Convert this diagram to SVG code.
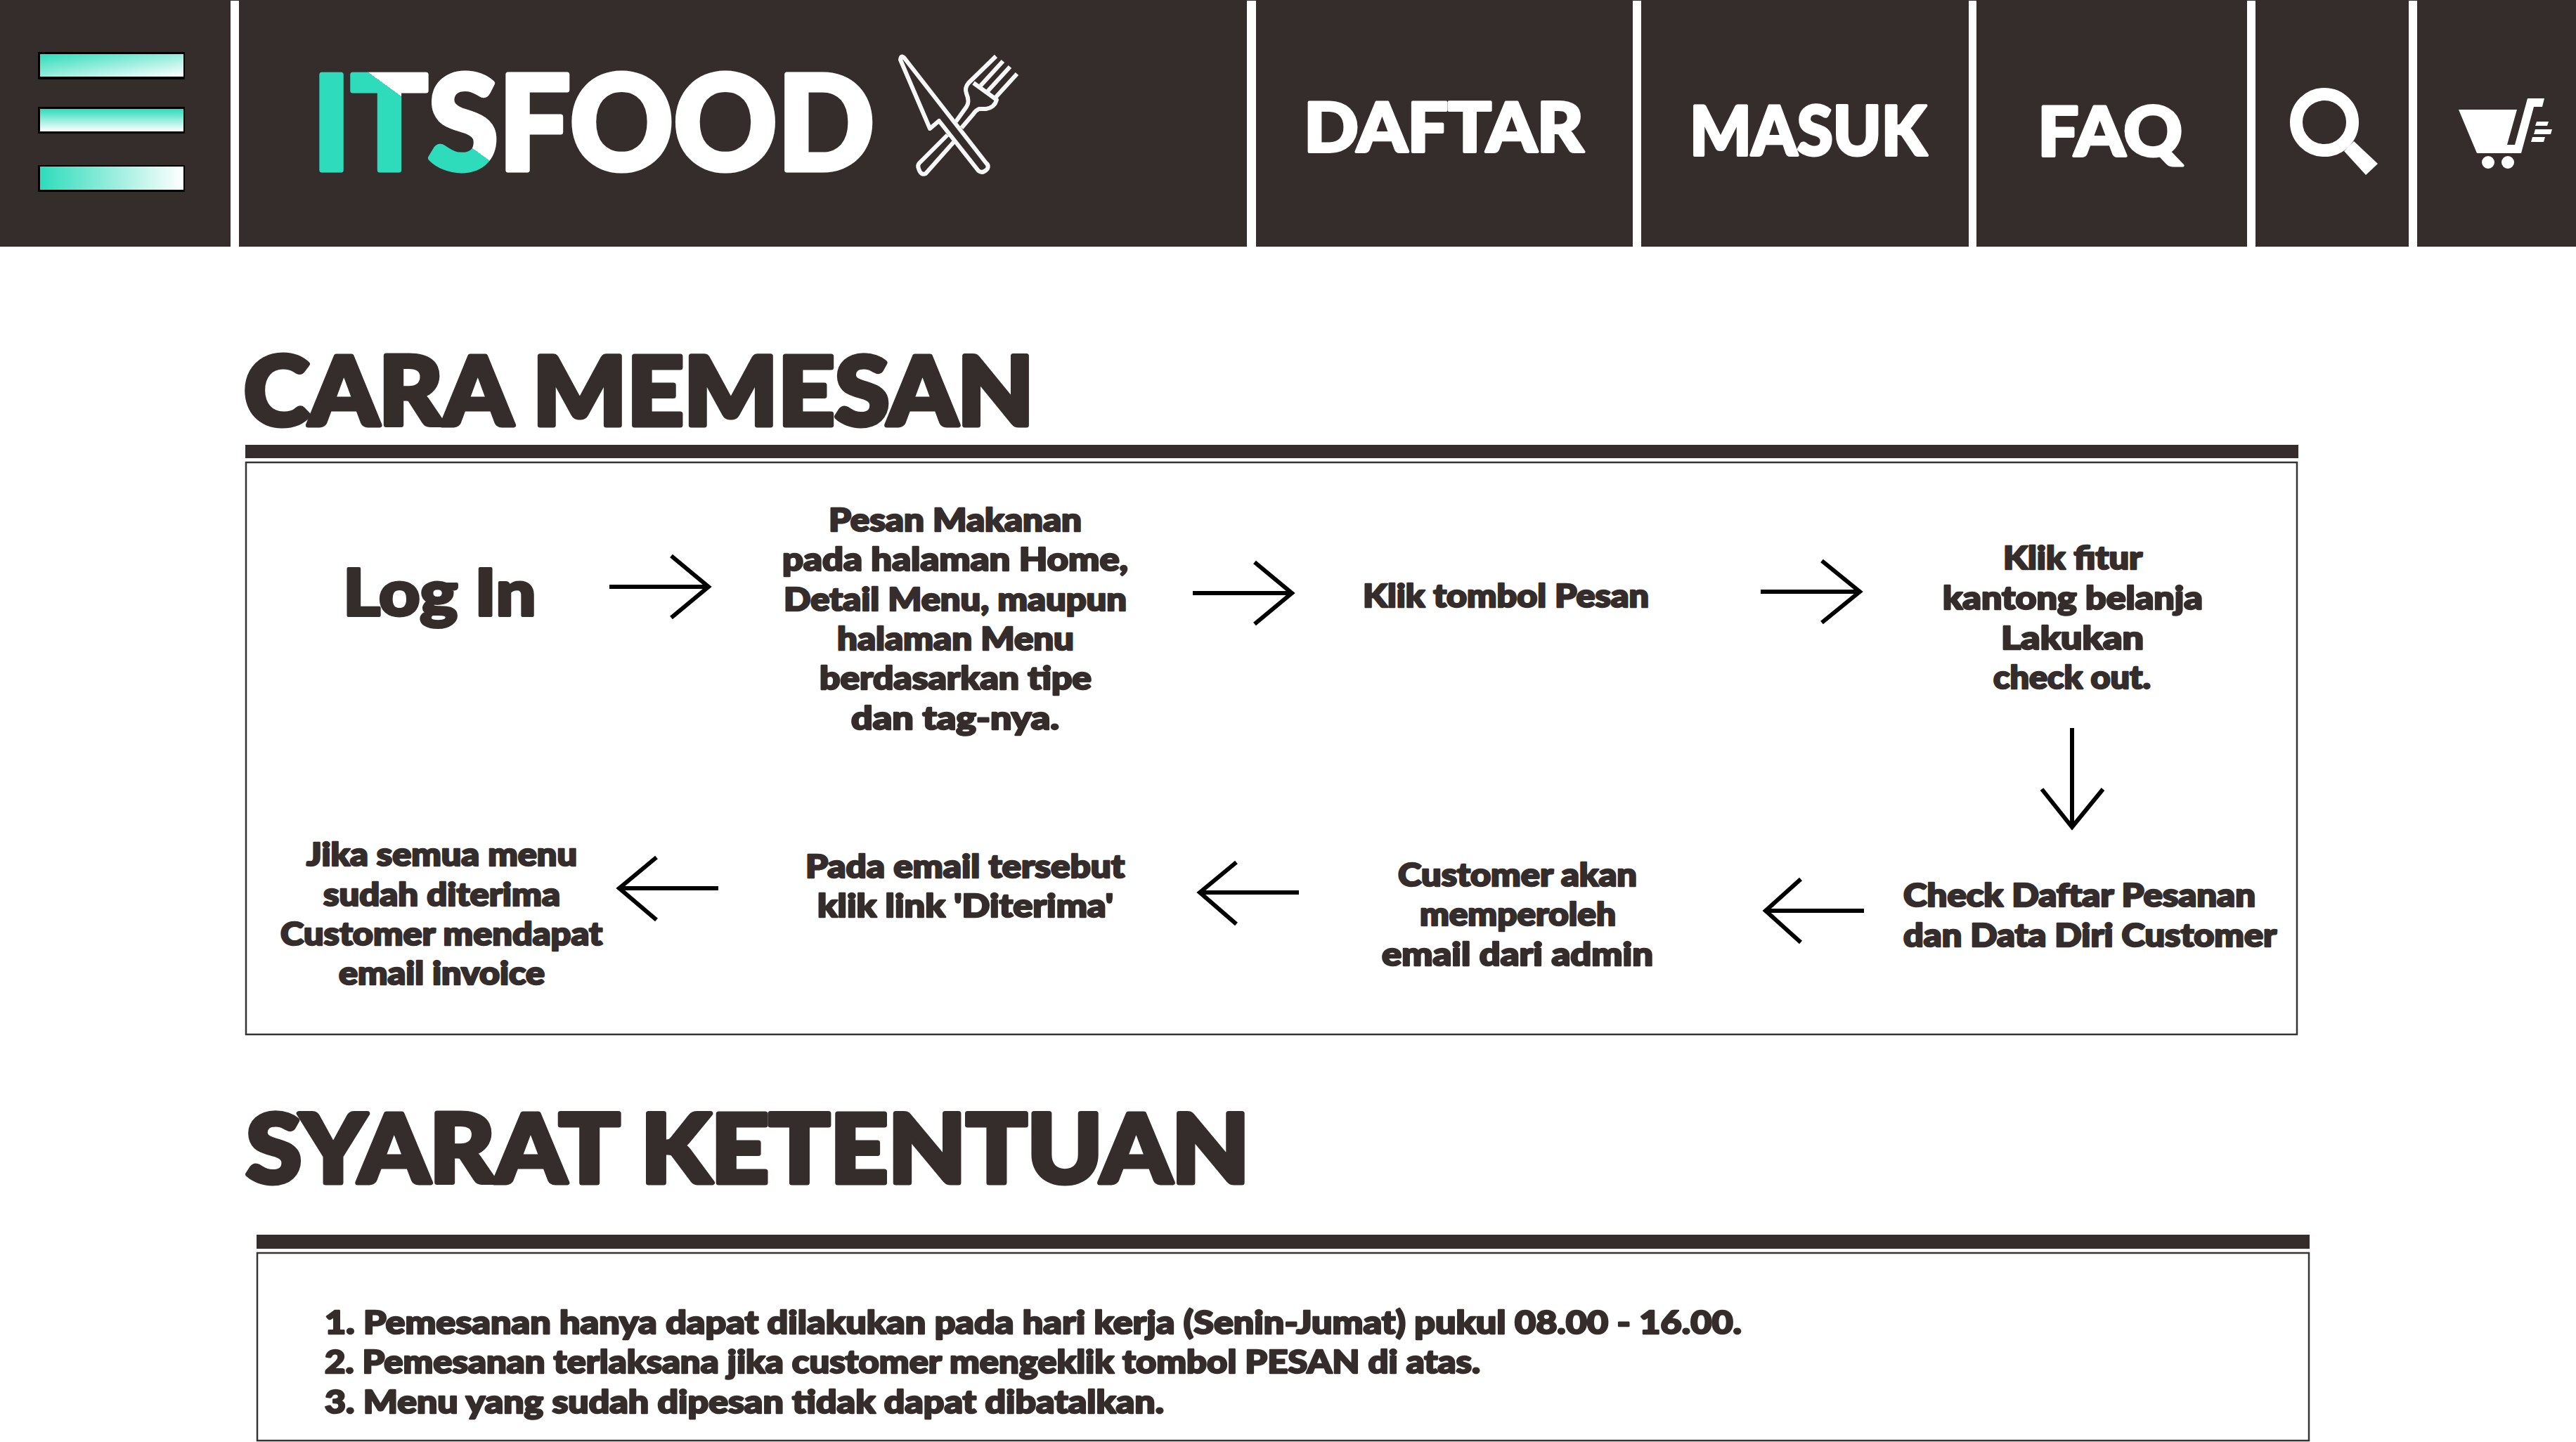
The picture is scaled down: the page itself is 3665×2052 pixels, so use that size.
<svg xmlns="http://www.w3.org/2000/svg" width="3665" height="2052" viewBox="0 0 3665 2052">
<style>
text{font-family:"Lato","Liberation Sans",sans-serif;font-weight:900;fill:#352d2b;stroke:#352d2b;stroke-width:2.5;stroke-linejoin:round}
.t{font-size:45px}
.m{font-size:46px}
.h{font-size:136px;stroke-width:7px}
.n{font-size:97px;fill:#fff;stroke:#fff;stroke-width:4px}
.w{fill:#fff}
.d{fill:#fff}
.a{fill:none;stroke:#000;stroke-width:6}
.f{fill:none;stroke:#343434;stroke-width:2.5}
.k{fill:none;stroke:#f7f7f7;stroke-width:6;stroke-linejoin:round}
</style>
<defs>
<linearGradient id="g1" x1="0" y1="0" x2="1" y2="1"><stop offset="0" stop-color="#2edcbb"/><stop offset="1" stop-color="#fff"/></linearGradient>
<linearGradient id="g2" x1="0" y1="0" x2="0" y2="1"><stop offset="0" stop-color="#2edcbb"/><stop offset="1" stop-color="#fff"/></linearGradient>
<linearGradient id="g3" x1="0" y1="0" x2="1" y2="0"><stop offset="0" stop-color="#2edcbb"/><stop offset="1" stop-color="#fff"/></linearGradient>
<linearGradient id="gl" gradientUnits="userSpaceOnUse" x1="531" y1="108" x2="590" y2="27"><stop offset="0" stop-color="#2edcbb"/><stop offset="0" stop-color="#fff"/></linearGradient>
</defs>
<rect width="3665" height="2052" fill="#fff"/>
<g id="header">
<rect width="3665" height="351" fill="#352d2b"/>
<g class="d">
<rect x="328" y="1" width="12" height="350"/>
<rect x="1774" y="1" width="13" height="350"/>
<rect x="2323" y="1" width="12" height="350"/>
<rect x="2801" y="1" width="11" height="350"/>
<rect x="3197" y="1" width="12" height="350"/>
<rect x="3427" y="1" width="12" height="350"/>
</g>
</g>
<g id="menu-icon">
<rect x="54" y="74" width="209" height="39" fill="#000"/>
<rect x="57" y="77" width="204" height="32" fill="url(#g1)"/>
<rect x="54" y="152" width="209" height="38" fill="#000"/>
<rect x="57" y="155" width="204" height="32" fill="url(#g2)"/>
<rect x="54" y="235" width="209" height="38" fill="#000"/>
<rect x="57" y="237" width="204" height="33" fill="url(#g3)"/>
</g>
<g id="logo">
<text x="444" y="242" textLength="800" lengthAdjust="spacingAndGlyphs" style="font-size:186px;stroke-width:7px"><tspan style="fill:url(#gl);stroke:url(#gl)">ITS</tspan><tspan style="fill:#fff;stroke:#fff">FOOD</tspan></text>
<path class="k" d="M1281 85L1323 183L1336 172L1392 243Q1398 248 1405 240Q1407 235 1403 232L1287 83Q1282 77 1281 85Z"/>
<path class="k" d="M1308 232L1348 192M1360 173L1375 152Q1380 145 1375 133Q1372 125 1378 118L1417 80M1385 118L1418 142Q1415 153 1403 155H1393Q1388 157 1385 162L1368 182M1357 202L1317 247Q1310 250 1307 240Q1305 235 1308 232"/>
<path class="k" d="M1395 122L1427 87M1405 130L1437 95M1417 138L1447 105"/>
</g>
<text id="nav-daftar" class="n" x="1855" y="216" textLength="398" lengthAdjust="spacingAndGlyphs">DAFTAR</text>
<text id="nav-masuk" class="n" x="2404" y="221" textLength="337" lengthAdjust="spacingAndGlyphs">MASUK</text>
<text id="nav-faq" class="n" x="2899" y="222" textLength="206" lengthAdjust="spacingAndGlyphs">FAQ</text>
<g id="search-icon">
<circle cx="3307" cy="174" r="40" fill="none" stroke="#fff" stroke-width="18"/>
<path class="w" d="M3335 215L3349 201L3383 233L3366 249Z"/>
</g>
<g id="cart-icon" class="w">
<path d="M3498 156H3581L3567 206H3578L3596 140H3620L3617 152H3605L3587 218H3524Z"/>
<circle cx="3540" cy="231" r="9"/>
<circle cx="3568" cy="231" r="9"/>
<path d="M3609 173H3626L3624 179H3607Z"/>
<path d="M3607 184H3631L3629 191H3605Z"/>
<path d="M3603 195H3621L3619 202H3601Z"/>
</g>
<text id="title-cara" class="h" x="347" y="605" textLength="1124" lengthAdjust="spacingAndGlyphs">CARA MEMESAN</text>
<rect id="bar-1" x="349" y="633" width="2921" height="19" fill="#352d2b"/>
<rect id="frame-1" class="f" x="350" y="658" width="2918" height="814"/>
<g id="steps" transform="translate(0,2)">
<text id="s1" x="488" y="874" style="font-size:92px;stroke-width:4px" textLength="275" lengthAdjust="spacingAndGlyphs">Log In</text>
<g id="s2" class="t">
<text x="1179" y="754" textLength="360" lengthAdjust="spacingAndGlyphs">Pesan Makanan</text>
<text x="1113" y="810" textLength="492" lengthAdjust="spacingAndGlyphs">pada halaman Home,</text>
<text x="1115" y="867" textLength="488" lengthAdjust="spacingAndGlyphs">Detail Menu, maupun</text>
<text x="1191" y="923" textLength="337" lengthAdjust="spacingAndGlyphs">halaman Menu</text>
<text x="1166" y="979" textLength="387" lengthAdjust="spacingAndGlyphs">berdasarkan tipe</text>
<text x="1211" y="1036" textLength="296" lengthAdjust="spacingAndGlyphs">dan tag-nya.</text>
</g>
<g id="s3" class="t"><text x="1939" y="862" textLength="407" lengthAdjust="spacingAndGlyphs">Klik tombol Pesan</text></g>
<g id="s4" class="t">
<text x="2850" y="808" textLength="198" lengthAdjust="spacingAndGlyphs">Klik fitur</text>
<text x="2764" y="865" textLength="370" lengthAdjust="spacingAndGlyphs">kantong belanja</text>
<text x="2847" y="922" textLength="203" lengthAdjust="spacingAndGlyphs">Lakukan</text>
<text x="2836" y="978" textLength="224" lengthAdjust="spacingAndGlyphs">check out.</text>
</g>
<g id="s5" class="t">
<text x="2708" y="1288" textLength="501" lengthAdjust="spacingAndGlyphs">Check Daftar Pesanan</text>
<text x="2708" y="1345" textLength="531" lengthAdjust="spacingAndGlyphs">dan Data Diri Customer</text>
</g>
<g id="s6" class="t">
<text x="1989" y="1259" textLength="340" lengthAdjust="spacingAndGlyphs">Customer akan</text>
<text x="2020" y="1315" textLength="279" lengthAdjust="spacingAndGlyphs">memperoleh</text>
<text x="1966" y="1372" textLength="386" lengthAdjust="spacingAndGlyphs">email dari admin</text>
</g>
<g id="s7" class="t">
<text x="1146" y="1247" textLength="454" lengthAdjust="spacingAndGlyphs">Pada email tersebut</text>
<text x="1163" y="1303" textLength="421" lengthAdjust="spacingAndGlyphs">klik link 'Diterima'</text>
</g>
<g id="s8" class="t">
<text x="436" y="1230" textLength="385" lengthAdjust="spacingAndGlyphs">Jika semua menu</text>
<text x="460" y="1287" textLength="337" lengthAdjust="spacingAndGlyphs">sudah diterima</text>
<text x="399" y="1343" textLength="458" lengthAdjust="spacingAndGlyphs">Customer mendapat</text>
<text x="482" y="1399" textLength="293" lengthAdjust="spacingAndGlyphs">email invoice</text>
</g>
</g>
<g id="connectors">
<path class="a" d="M867 835H1008M955 791L1008 835L955 879"/>
<path class="a" d="M1697 844H1838M1785 800L1838 844L1785 888"/>
<path class="a" d="M2505 842H2646M2592 798L2646 842L2592 886"/>
<path class="a" d="M2948 1036V1177M2905 1123L2948 1177L2992 1123"/>
<path class="a" d="M2652 1296H2512M2562 1251L2512 1296L2562 1341"/>
<path class="a" d="M1848 1270H1707M1759 1227L1707 1270L1759 1315"/>
<path class="a" d="M1022 1264H881M934 1220L881 1264L934 1309"/>
</g>
<text id="title-syarat" class="h" x="350" y="1683" textLength="1428" lengthAdjust="spacingAndGlyphs">SYARAT KETENTUAN</text>
<rect id="bar-2" x="365" y="1757" width="2921" height="20" fill="#352d2b"/>
<rect id="frame-2" class="f" x="366" y="1783" width="2919" height="267"/>
<g id="terms" class="m">
<text x="462" y="1898" textLength="2016" lengthAdjust="spacingAndGlyphs">1. Pemesanan hanya dapat dilakukan pada hari kerja (Senin-Jumat) pukul 08.00 - 16.00.</text>
<text x="462" y="1954" textLength="1644" lengthAdjust="spacingAndGlyphs">2. Pemesanan terlaksana jika customer mengeklik tombol PESAN di atas.</text>
<text x="462" y="2011" textLength="1194" lengthAdjust="spacingAndGlyphs">3. Menu yang sudah dipesan tidak dapat dibatalkan.</text>
</g>
</svg>
